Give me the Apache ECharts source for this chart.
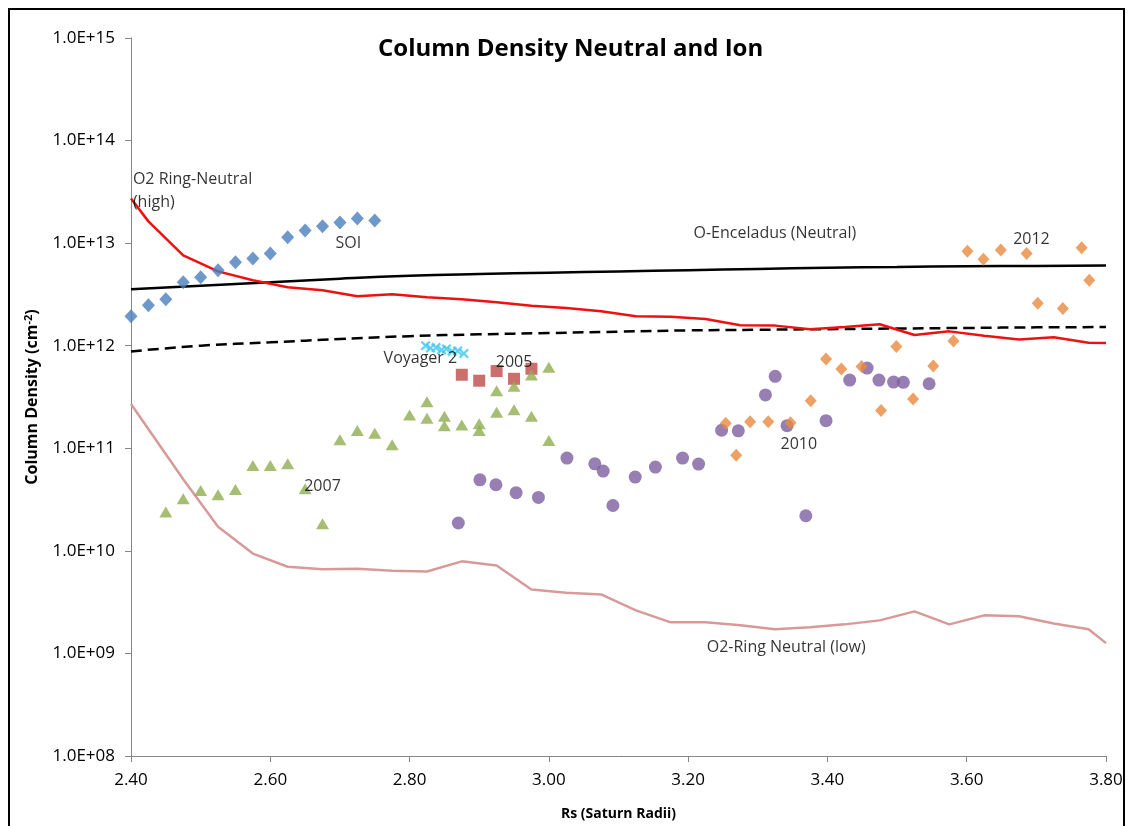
<!DOCTYPE html>
<html>
<head>
<meta charset="utf-8">
<script src="https://cdn.jsdelivr.net/npm/echarts@6/dist/echarts.min.js"></script>
<style>
  html, body { margin: 0; padding: 0; background: #ffffff; }
  #chart { width: 1129px; height: 826px; }
</style>
</head>
<body>
<div id="chart"></div>
<script>
// ---- Model curves: column density (cm^-2) vs. distance (Saturn radii) ----
const ringHighX = [2.400, 2.425, 2.475, 2.525, 2.575, 2.625, 2.675, 2.725, 2.775, 2.825, 2.875, 2.925, 2.975, 3.025, 3.075,
                   3.125, 3.175, 3.225, 3.275, 3.325, 3.375, 3.425, 3.475, 3.525, 3.575, 3.625, 3.675, 3.725, 3.775, 3.800];
const ringHighY = [2.72e13, 1.63e13, 7.6e12, 5.31e12, 4.34e12, 3.72e12, 3.47e12, 3.04e12, 3.17e12, 2.97e12, 2.84e12, 2.65e12, 2.45e12, 2.33e12, 2.17e12,
                   1.94e12, 1.92e12, 1.82e12, 1.58e12, 1.57e12, 1.45e12, 1.52e12, 1.62e12, 1.27e12, 1.38e12, 1.25e12, 1.15e12, 1.21e12, 1.07e12, 1.06e12];

const ringLowX = [2.400, 2.475, 2.525, 2.575, 2.625, 2.675, 2.725, 2.775, 2.825, 2.875, 2.925, 2.975, 3.025, 3.075, 3.125,
                  3.175, 3.225, 3.275, 3.325, 3.375, 3.425, 3.475, 3.525, 3.575, 3.625, 3.675, 3.725, 3.775, 3.800];
const ringLowY = [2.7e11, 5.0e10, 1.72e10, 9.4e9, 7.0e9, 6.6e9, 6.7e9, 6.4e9, 6.3e9, 7.9e9, 7.2e9, 4.2e9, 3.9e9, 3.76e9, 2.63e9,
                  2.01e9, 2.01e9, 1.88e9, 1.72e9, 1.80e9, 1.92e9, 2.1e9, 2.57e9, 1.92e9, 2.35e9, 2.3e9, 1.96e9, 1.72e9, 1.26e9];

const enceladusX = [2.4, 2.5, 2.6, 2.7, 2.8, 2.9, 3.0, 3.1, 3.2, 3.3, 3.4, 3.5, 3.6, 3.7, 3.8];
const enceladusY = [3.55e12, 3.85e12, 4.15e12, 4.5e12, 4.8e12, 5.0e12, 5.15e12, 5.3e12, 5.45e12, 5.6e12, 5.75e12, 5.85e12, 5.95e12, 6.0e12, 6.05e12];
const ionY       = [8.8e11, 1.0e12, 1.08e12, 1.16e12, 1.24e12, 1.29e12, 1.33e12, 1.37e12, 1.41e12, 1.43e12, 1.45e12, 1.47e12, 1.49e12, 1.51e12, 1.52e12];

// ---- Observations ----
const soiX = [2.400, 2.425, 2.450, 2.475, 2.500, 2.525, 2.550, 2.575, 2.600, 2.625, 2.650, 2.675, 2.700, 2.725, 2.750];
const soiY = [1.94e12, 2.48e12, 2.84e12, 4.15e12, 4.64e12, 5.43e12, 6.5e12, 7.1e12, 7.94e12, 1.14e13, 1.33e13, 1.46e13, 1.59e13, 1.74e13, 1.66e13];

const y2005X = [2.875, 2.900, 2.925, 2.950, 2.975];
const y2005Y = [5.21e11, 4.56e11, 5.66e11, 4.76e11, 5.96e11];

const y2007X = [2.450, 2.475, 2.500, 2.525, 2.550, 2.575, 2.600, 2.625, 2.650, 2.675, 2.700, 2.725, 2.750, 2.775, 2.800,
                2.825, 2.825, 2.850, 2.850, 2.875, 2.900, 2.900, 2.925, 2.925, 2.950, 2.950, 2.975, 2.975, 3.000, 3.000];
const y2007Y = [2.39e10, 3.22e10, 3.88e10, 3.53e10, 3.97e10, 6.8e10, 6.8e10, 7.06e10, 4.03e10, 1.84e10, 1.21e11, 1.49e11, 1.40e11, 1.08e11, 2.11e11,
                2.85e11, 1.96e11, 2.05e11, 1.66e11, 1.69e11, 1.73e11, 1.49e11, 3.64e11, 2.24e11, 4.02e11, 2.37e11, 5.17e11, 2.05e11, 6.15e11, 1.19e11];

const voyagerX = [2.823, 2.830, 2.838, 2.846, 2.853, 2.861, 2.869, 2.878];
const voyagerY = [1.0e12, 9.5e11, 9.6e11, 9.1e11, 9.3e11, 8.8e11, 8.9e11, 8.4e11];

const y2010X = [2.870, 2.901, 2.924, 2.953, 2.985, 3.026, 3.066, 3.078, 3.092, 3.124, 3.153, 3.192, 3.215,
                3.248, 3.272, 3.311, 3.325, 3.342, 3.369, 3.398, 3.432, 3.457, 3.474, 3.495, 3.509, 3.546];
const y2010Y = [1.87e10, 4.93e10, 4.41e10, 3.69e10, 3.32e10, 8.02e10, 7.06e10, 6.0e10, 2.77e10, 5.24e10, 6.56e10, 8.02e10, 7.01e10,
                1.50e11, 1.48e11, 3.31e11, 5.03e11, 1.66e11, 2.20e10, 1.86e11, 4.62e11, 6.05e11, 4.62e11, 4.42e11, 4.4e11, 4.26e11];

const y2012X = [3.254, 3.269, 3.289, 3.315, 3.347, 3.376, 3.398, 3.420, 3.449, 3.477, 3.499, 3.523, 3.552, 3.581,
                3.601, 3.624, 3.649, 3.686, 3.702, 3.738, 3.765, 3.776];
const y2012Y = [1.75e11, 8.54e10, 1.81e11, 1.81e11, 1.77e11, 2.91e11, 7.41e11, 5.92e11, 6.26e11, 2.33e11, 9.84e11, 3.03e11, 6.33e11, 1.11e12,
                8.35e12, 6.95e12, 8.55e12, 7.94e12, 2.59e12, 2.30e12, 9.02e12, 4.34e12];

// ---- In-plot annotations (anchored at data coordinates, left edge of text) ----
const noteText = ['O2 Ring-Neutral\n(high)', 'SOI', 'O-Enceladus (Neutral)', '2012', 'Voyager 2', '2005', '2010', '2007', 'O2-Ring Neutral (low)'];
const noteX    = [2.402, 2.693, 3.207, 3.666, 2.762, 2.923, 3.332, 2.648, 3.226];
const noteY    = [3.22e13, 9.93e12, 1.245e13, 1.09e13, 7.57e11, 6.92e11, 1.08e11, 4.22e10, 1.15e9];

const xMin = 2.4, xMax = 3.8, xStep = 0.2;
const yMin = 1e8, yMax = 1e15;

const zip = (xs, ys) => xs.map((x, i) => [x, ys[i]]);
const FONT = '"Open Sans", "Noto Sans", sans-serif';

function sci(v) {
  const e = Math.round(Math.log10(v));
  const m = v / Math.pow(10, e);
  const sign = e < 0 ? '-' : '+';
  const ee = String(Math.abs(e)).padStart(2, '0');
  return m.toFixed(1) + 'E' + sign + ee;
}

// "x" marker drawn as a filled outline with thick arms
const crossPath = 'path://M0,1.6 L1.6,0 L5,3.4 L8.4,0 L10,1.6 L6.6,5 L10,8.4 L8.4,10 L5,6.6 L1.6,10 L0,8.4 L3.4,5 Z';

const chart = echarts.init(document.getElementById('chart'), null, { renderer: 'canvas' });

chart.setOption({
  backgroundColor: '#ffffff',
  animation: false,
  title: {
    text: 'Column Density Neutral and Ion',
    left: 373,
    top: 32,
    textStyle: { fontFamily: FONT, fontWeight: 'bold', fontSize: 24, color: '#000000' }
  },
  grid: { left: 131, right: 23, top: 38, bottom: 68, containLabel: false },
  xAxis: {
    type: 'value',
    min: xMin, max: xMax, interval: xStep,
    name: 'Rs (Saturn Radii)',
    nameLocation: 'middle',
    nameGap: 51,
    nameTextStyle: { fontFamily: FONT, fontWeight: 'bold', fontSize: 14, color: '#000000' },
    axisLine: { lineStyle: { color: '#868686', width: 1 } },
    axisTick: { show: true, length: 6, lineStyle: { color: '#868686' } },
    axisLabel: { margin: 16, fontFamily: FONT, fontSize: 17, color: '#000000', formatter: v => v.toFixed(2) },
    splitLine: { show: false }
  },
  yAxis: {
    type: 'log',
    logBase: 10,
    min: yMin, max: yMax, interval: 1,
    name: 'Column Density (cm{sup|-2})',
    nameLocation: 'middle',
    nameRotate: 90,
    nameGap: 90,
    nameTextStyle: {
      fontFamily: FONT, fontWeight: 'bold', fontSize: 16, color: '#000000',
      rich: { sup: { fontFamily: FONT, fontWeight: 'bold', fontSize: 11, verticalAlign: 'top', padding: [0, 0, 7, 0], color: '#000000' } }
    },
    axisLine: { show: true, lineStyle: { color: '#868686', width: 1 } },
    axisTick: { show: true, length: 6, lineStyle: { color: '#868686' } },
    axisLabel: { margin: 16, fontFamily: FONT, fontSize: 17, color: '#000000', formatter: v => sci(v) },
    splitLine: { show: false }
  },
  graphic: [{
    type: 'rect',
    silent: true,
    shape: { x: 9, y: 9, width: 1115, height: 840 },
    style: { fill: 'none', stroke: '#000000', lineWidth: 2 }
  }],
  series: [
    {
      name: 'O-Enceladus (Neutral)', type: 'line', data: zip(enceladusX, enceladusY),
      showSymbol: false, smooth: true, lineStyle: { color: '#000000', width: 2.5 }, z: 2
    },
    {
      name: 'O-Enceladus (Ion)', type: 'line', data: zip(enceladusX, ionY),
      showSymbol: false, smooth: true, lineStyle: { color: '#000000', width: 2.5, type: [11, 6] }, z: 2
    },
    {
      name: 'O2 Ring-Neutral (high)', type: 'line', data: zip(ringHighX, ringHighY),
      showSymbol: false, lineStyle: { color: '#EE1111', width: 2.5 }, z: 2
    },
    {
      name: 'O2-Ring Neutral (low)', type: 'line', data: zip(ringLowX, ringLowY),
      showSymbol: false, lineStyle: { color: '#D89A98', width: 2.5 }, z: 2
    },
    {
      name: 'SOI', type: 'scatter', data: zip(soiX, soiY),
      symbol: 'diamond', symbolSize: [13, 14], itemStyle: { color: '#4A7EBB' }, z: 3
    },
    {
      name: '2005', type: 'scatter', data: zip(y2005X, y2005Y),
      symbol: 'rect', symbolSize: 12, itemStyle: { color: '#BE4B48' }, z: 3
    },
    {
      name: '2007', type: 'scatter', data: zip(y2007X, y2007Y),
      symbol: 'triangle', symbolSize: [13, 11], itemStyle: { color: '#8EAE50' }, z: 3
    },
    {
      name: '2010', type: 'scatter', data: zip(y2010X, y2010Y),
      symbol: 'circle', symbolSize: 13, itemStyle: { color: '#7D5FA0' }, z: 3
    },
    {
      name: 'Voyager 2', type: 'scatter', data: zip(voyagerX, voyagerY),
      symbol: crossPath, symbolSize: 10, itemStyle: { color: '#3CC8F0' }, z: 3
    },
    {
      name: '2012', type: 'scatter', data: zip(y2012X, y2012Y),
      symbol: 'diamond', symbolSize: [12, 13], itemStyle: { color: '#E9893F' }, z: 3
    },
    {
      name: 'notes', type: 'scatter',
      data: noteText.map((t, i) => ({ name: t, value: [noteX[i], noteY[i]] })),
      symbolSize: 1, itemStyle: { color: 'rgba(0,0,0,0)' }, z: 5, silent: true,
      label: {
        show: true, position: 'right', distance: 0, formatter: p => p.name,
        fontFamily: FONT, fontSize: 16, color: '#000000', lineHeight: 23, align: 'left', verticalAlign: 'middle'
      }
    }
  ]
});
</script>
</body>
</html>
